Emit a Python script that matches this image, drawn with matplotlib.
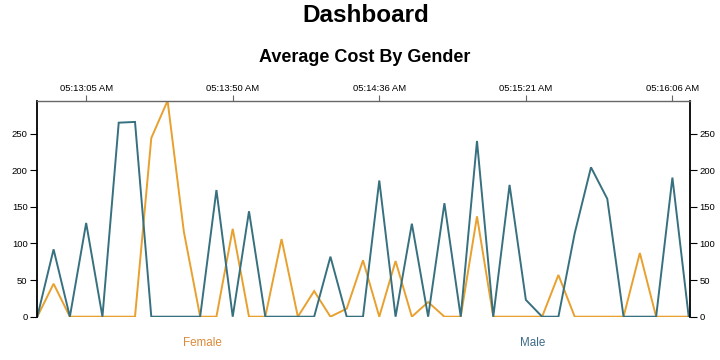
import matplotlib
matplotlib.use("Agg")
import matplotlib.pyplot as plt

plt.rcParams['font.family'] = ['Liberation Sans', 'DejaVu Sans']

# ---- data ----
female = [0, 45, 0, 0, 0, 0, 0, 244, 295, 116, 0, 0, 120, 0, 0, 106, 0, 35, 0, 11,
          77, 0, 76, 0, 20, 0, 0, 137, 0, 0, 0, 0, 57, 0, 0, 0, 0, 87, 0, 0, 0]
male = [0, 92, 0, 128, 0, 265, 266, 0, 0, 0, 0, 173, 0, 144, 0, 0, 0, 0, 82, 0,
        0, 186, 0, 127, 0, 155, 0, 240, 0, 180, 23, 0, 0, 114, 204, 161, 0, 0, 0, 190, 0]
tick_index = [3, 12, 21, 30, 39]
tick_labels = ["05:13:05 AM", "05:13:50 AM", "05:14:36 AM", "05:15:21 AM", "05:16:06 AM"]
y_ticks = [0, 50, 100, 150, 200, 250]
series_names = ["Female", "Male"]
colors = ["#e8a02e", "#37707f"]
legend_colors = ["#dc8a3a", "#3d6b88"]

fig = plt.figure(figsize=(7.2, 3.6), dpi=100)
ax = fig.add_axes([37.3 / 720, 1 - 316.7 / 360, (690 - 37.3) / 720, (316.7 - 100.7) / 360])

x = list(range(len(female)))
ax.plot(x, female, color=colors[0], lw=1.4, solid_joinstyle='miter')
ax.plot(x, male, color=colors[1], lw=1.4, solid_joinstyle='miter')

ax.set_xlim(0, 40.08)
ax.set_ylim(0, 295)

ax.xaxis.tick_top()
ax.set_xticks(tick_index)
ax.set_xticklabels(tick_labels, fontsize=6.8)
ax.tick_params(axis='x', direction='out', length=4, color='#666666', pad=1.5)

ax.set_yticks(y_ticks)
ax.tick_params(axis='y', left=True, right=True, labelleft=True, labelright=True,
               direction='out', length=5, labelsize=6.8, pad=2)

for s in ['left', 'right']:
    ax.spines[s].set_color('black')
    ax.spines[s].set_linewidth(1.3)
ax.spines['top'].set_color('#666666')
ax.spines['top'].set_linewidth(1.0)
ax.spines['bottom'].set_visible(False)

fig.text(365.5 / 720, 1 - 16 / 360, "Dashboard", ha='center', va='center',
         fontsize=17.5, fontweight='bold')
fig.text(364.5 / 720, 1 - 57 / 360, "Average Cost By Gender", ha='center', va='center',
         fontsize=13, fontweight='bold')

legend_x = [202.5 / 720, 532.5 / 720]
for name, c, lx in zip(series_names, legend_colors, legend_x):
    fig.text(lx, 1 - 343 / 360, name, ha='center', va='center', fontsize=8.4, color=c)

fig.savefig("out.png", dpi=100, facecolor='white')
